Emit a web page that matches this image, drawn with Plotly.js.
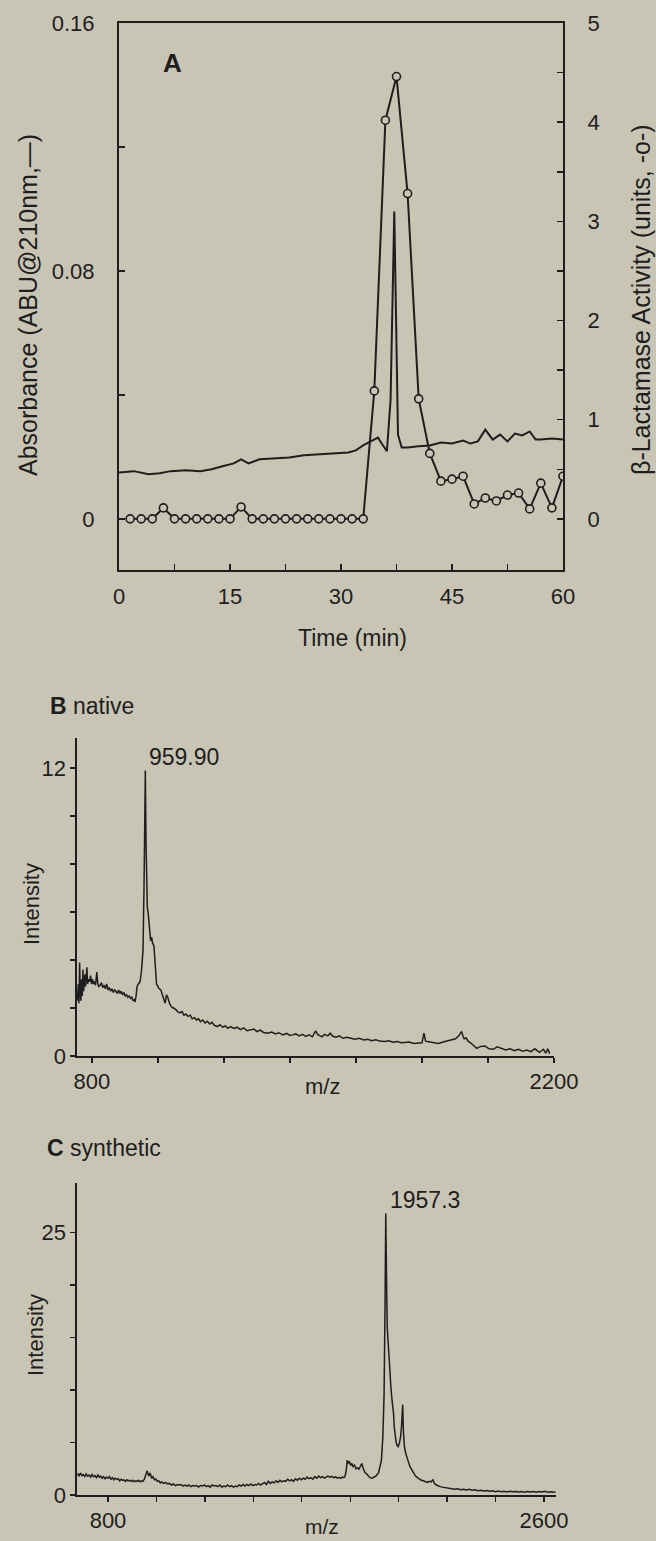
<!DOCTYPE html>
<html>
<head>
<meta charset="utf-8">
<script src="https://cdn.plot.ly/plotly-3.0.1.min.js"></script>
<style>html,body{margin:0;padding:0;background:#c9c5b5;}#chart{width:656px;height:1541px;}</style>
</head>
<body>
<div id="chart"></div>
<script>
// ---------- Panel A: HPLC absorbance and beta-lactamase activity ----------
const absTime = [0, 2, 4, 5.5, 7, 9, 11, 12.5, 14, 15.5, 16.5, 17.5, 19, 21, 23, 25, 27, 29, 31, 32, 33, 34, 35, 35.5, 36.2, 36.7, 37.0, 37.2, 37.4, 37.7, 38.2, 39, 40.5, 42, 43.5, 45, 46.5, 47.5, 48.5, 49.5, 50.5, 51.5, 52.5, 53.5, 54.5, 55.5, 56.3, 57, 58.5, 60];
const absValue = [0.0150, 0.0154, 0.0144, 0.0147, 0.0154, 0.0157, 0.0154, 0.0160, 0.0170, 0.0179, 0.0192, 0.0179, 0.0192, 0.0195, 0.0198, 0.0205, 0.0208, 0.0211, 0.0214, 0.0221, 0.0237, 0.0250, 0.0262, 0.0243, 0.0218, 0.0384, 0.0832, 0.0992, 0.0704, 0.0272, 0.0230, 0.0230, 0.0234, 0.0237, 0.0246, 0.0243, 0.0253, 0.0243, 0.0250, 0.0288, 0.0256, 0.0272, 0.0250, 0.0275, 0.0269, 0.0282, 0.0256, 0.0256, 0.0259, 0.0256];
const actTime = [1.5, 3, 4.5, 6, 7.5, 9, 10.5, 12, 13.5, 15, 16.5, 18, 19.5, 21, 22.5, 24, 25.5, 27, 28.5, 30, 31.5, 33, 34.5, 36, 37.5, 39, 40.5, 42, 43.5, 45, 46.5, 48, 49.5, 51, 52.5, 54, 55.5, 57, 58.5, 60];
const actValue = [0, 0, 0, 0.11, 0, 0, 0, 0, 0, 0, 0.12, 0, 0, 0, 0, 0, 0, 0, 0, 0, 0, 0, 1.29, 4.02, 4.46, 3.28, 1.21, 0.66, 0.38, 0.40, 0.43, 0.15, 0.21, 0.18, 0.24, 0.26, 0.10, 0.36, 0.11, 0.43];
const timeTicks = [0, 7.5, 15, 22.5, 30, 37.5, 45, 52.5, 60];
const timeTickText = ['0', '', '15', '', '30', '', '45', '', '60'];
const absTicks = [0, 0.04, 0.08, 0.12, 0.16];
const absTickText = ['0', '', '0.08', '', '0.16'];
const actTicks = [0, 0.5, 1, 1.5, 2, 2.5, 3, 3.5, 4, 4.5, 5];
const actTickText = ['0', '', '1', '', '2', '', '3', '', '4', '', '5'];

// ---------- Panel B: native MS spectrum ----------
const mzB = [756, 759, 761, 763, 765, 767, 769, 771, 773, 775, 777, 779, 781, 783, 785, 787, 790, 793, 796, 799, 802, 805, 808, 811, 815, 818, 821, 825, 829, 833, 837, 841, 845, 849, 853, 857, 861, 865, 869, 873, 877, 881, 885, 889, 893, 897, 901, 905, 909, 913, 917, 921, 925, 928, 931, 934, 937, 941, 946, 950, 953, 955, 958, 960, 962, 964, 966, 968, 971, 975, 978, 981, 984, 988, 992, 996, 1000, 1004, 1009, 1013, 1017, 1022, 1026, 1030, 1035, 1041, 1047, 1053, 1060, 1066, 1073, 1079, 1085, 1091, 1098, 1104, 1111, 1117, 1123, 1129, 1136, 1143, 1150, 1157, 1164, 1171, 1180, 1188, 1196, 1204, 1212, 1220, 1231, 1240, 1250, 1260, 1270, 1281, 1291, 1300, 1310, 1320, 1333, 1345, 1356, 1367, 1378, 1390, 1400, 1408, 1418, 1428, 1438, 1448, 1458, 1468, 1474, 1478, 1484, 1492, 1497, 1505, 1515, 1522, 1530, 1540, 1550, 1560, 1573, 1585, 1597, 1610, 1624, 1636, 1648, 1660, 1672, 1687, 1700, 1712, 1725, 1738, 1750, 1762, 1775, 1788, 1800, 1806, 1811, 1816, 1826, 1838, 1850, 1864, 1876, 1888, 1902, 1912, 1920, 1925, 1928, 1934, 1941, 1947, 1956, 1966, 1978, 1991, 2003, 2016, 2028, 2042, 2054, 2067, 2080, 2092, 2105, 2118, 2130, 2142, 2156, 2168, 2175, 2181, 2187, 2193, 2197, 2200];
const intB = [2.3, 3.0, 2.2, 3.9, 2.6, 2.3, 3.2, 2.5, 3.6, 2.7, 3.0, 3.4, 2.9, 3.3, 3.7, 3.0, 3.2, 3.1, 3.35, 3.0, 3.2, 3.0, 3.1, 2.95, 3.5, 3.0, 2.9, 2.95, 3.05, 2.85, 2.95, 2.8, 3.0, 2.75, 2.85, 2.7, 2.8, 2.65, 2.75, 2.7, 2.6, 2.75, 2.6, 2.7, 2.55, 2.65, 2.5, 2.55, 2.45, 2.5, 2.4, 2.45, 2.3, 2.35, 2.25, 2.5, 2.9, 3.0, 3.1, 3.5, 3.9, 4.4, 7.0, 10.0, 11.9, 9.0, 7.2, 6.2, 5.9, 5.0, 4.8, 4.95, 4.7, 4.6, 3.6, 3.0, 2.9, 2.8, 2.75, 2.6, 2.4, 2.2, 2.55, 2.45, 2.2, 2.05, 2.0, 1.95, 1.85, 1.8, 1.85, 1.7, 1.75, 1.65, 1.7, 1.55, 1.6, 1.5, 1.55, 1.43, 1.5, 1.38, 1.45, 1.33, 1.4, 1.28, 1.22, 1.3, 1.2, 1.25, 1.15, 1.22, 1.15, 1.2, 1.1, 1.17, 1.05, 1.08, 1.12, 1.02, 1.08, 0.98, 0.95, 1.0, 0.92, 0.97, 0.88, 0.94, 0.86, 0.88, 0.92, 0.84, 0.9, 0.82, 0.88, 0.8, 0.92, 1.05, 0.9, 0.82, 0.8, 0.9, 0.84, 0.95, 0.82, 0.78, 0.84, 0.74, 0.78, 0.74, 0.7, 0.74, 0.67, 0.7, 0.64, 0.68, 0.62, 0.6, 0.63, 0.57, 0.6, 0.55, 0.56, 0.58, 0.52, 0.53, 0.55, 0.95, 0.62, 0.6, 0.57, 0.55, 0.52, 0.58, 0.62, 0.67, 0.72, 0.85, 1.02, 0.8, 0.72, 0.75, 0.6, 0.55, 0.45, 0.32, 0.4, 0.42, 0.3, 0.28, 0.38, 0.32, 0.25, 0.3, 0.22, 0.28, 0.2, 0.25, 0.18, 0.3, 0.15, 0.28, 0.12, 0.3, 0.1];
const mzBTicks = [800, 1000, 1200, 1400, 1600, 1800, 2000, 2200];
const mzBTickText = ['800', '', '', '', '', '', '', '2200'];
const intBTicks = [0, 2, 4, 6, 8, 10, 12];
const intBTickText = ['0', '', '', '', '', '', '12'];

// ---------- Panel C: synthetic MS spectrum ----------
const mzC = [674, 680, 686, 692, 698, 704, 710, 716, 722, 728, 734, 740, 746, 752, 758, 764, 770, 776, 782, 788, 794, 800, 806, 812, 818, 824, 830, 836, 842, 848, 854, 860, 866, 872, 878, 884, 890, 896, 902, 908, 914, 920, 926, 932, 938, 944, 950, 956, 962, 968, 974, 980, 986, 992, 998, 1004, 1010, 1016, 1022, 1030, 1038, 1046, 1054, 1062, 1070, 1078, 1086, 1094, 1102, 1110, 1118, 1126, 1134, 1142, 1150, 1158, 1166, 1174, 1182, 1190, 1198, 1206, 1214, 1222, 1230, 1238, 1246, 1254, 1262, 1270, 1278, 1286, 1294, 1302, 1310, 1318, 1326, 1334, 1342, 1350, 1358, 1366, 1374, 1382, 1390, 1398, 1406, 1414, 1422, 1430, 1438, 1446, 1454, 1462, 1470, 1478, 1486, 1494, 1502, 1510, 1518, 1526, 1534, 1542, 1550, 1558, 1566, 1574, 1582, 1590, 1598, 1606, 1614, 1622, 1630, 1638, 1646, 1654, 1662, 1670, 1678, 1686, 1694, 1700, 1708, 1716, 1724, 1732, 1740, 1748, 1756, 1762, 1768, 1774, 1779, 1784, 1788, 1792, 1797, 1802, 1807, 1812, 1818, 1824, 1830, 1836, 1842, 1848, 1853, 1858, 1862, 1866, 1874, 1882, 1891, 1900, 1908, 1917, 1923, 1929, 1935, 1940, 1944, 1947, 1950, 1953, 1957, 1961, 1965, 1969, 1973, 1976, 1979, 1982, 1986, 1990, 1994, 1998, 2003, 2008, 2012, 2015, 2017, 2020, 2024, 2029, 2034, 2040, 2047, 2054, 2062, 2070, 2078, 2086, 2094, 2102, 2110, 2118, 2126, 2134, 2142, 2148, 2156, 2164, 2172, 2180, 2190, 2200, 2210, 2220, 2232, 2244, 2256, 2268, 2280, 2292, 2304, 2316, 2328, 2340, 2352, 2364, 2376, 2388, 2400, 2412, 2424, 2436, 2448, 2460, 2472, 2484, 2496, 2508, 2520, 2532, 2544, 2556, 2568, 2580, 2592, 2604, 2616, 2628, 2640, 2648];
const intC = [2.05, 1.8, 2.1, 1.85, 1.95, 1.75, 2.0, 1.8, 1.9, 1.7, 1.95, 1.75, 1.85, 1.65, 1.9, 1.7, 1.8, 1.6, 1.75, 1.55, 1.7, 1.6, 1.75, 1.5, 1.65, 1.45, 1.6, 1.5, 1.55, 1.35, 1.5, 1.4, 1.45, 1.3, 1.45, 1.35, 1.4, 1.3, 1.4, 1.25, 1.35, 1.3, 1.4, 1.25, 1.35, 1.3, 1.5, 1.9, 2.3, 1.8, 2.1, 1.6, 1.75, 1.45, 1.5, 1.3, 1.35, 1.15, 1.25, 1.1, 1.2, 1.05, 1.1, 0.95, 1.05, 0.9, 1.0, 0.95, 1.0, 0.85, 0.95, 0.85, 0.95, 0.8, 0.9, 0.85, 0.9, 0.75, 0.9, 0.85, 0.95, 0.8, 0.9, 0.75, 0.95, 0.85, 0.9, 0.8, 0.95, 0.75, 0.85, 0.8, 0.95, 0.8, 0.9, 0.75, 0.85, 0.8, 0.95, 0.85, 1.0, 0.85, 1.0, 0.9, 1.05, 0.9, 1.0, 0.95, 1.1, 0.95, 1.05, 1.2, 1.0, 1.3, 1.1, 1.25, 1.15, 1.35, 1.2, 1.4, 1.25, 1.35, 1.3, 1.5, 1.35, 1.45, 1.3, 1.55, 1.4, 1.6, 1.45, 1.6, 1.5, 1.7, 1.55, 1.65, 1.5, 1.75, 1.6, 1.8, 1.65, 1.75, 1.6, 1.7, 1.8, 1.7, 1.78, 1.65, 1.72, 1.6, 1.68, 1.58, 1.7, 1.65, 1.8, 2.4, 3.3, 3.0, 3.2, 2.8, 3.0, 2.7, 2.85, 2.5, 2.6, 2.45, 2.7, 3.0, 2.6, 2.3, 2.1, 2.05, 1.8, 1.65, 1.6, 1.7, 1.85, 2.1, 2.6, 3.3, 5.5, 9.5, 18, 26.8, 21, 16, 14.5, 12.5, 10.8, 10.0, 9.0, 8.5, 7.8, 6.5, 5.5, 5.0, 4.7, 4.6, 4.9, 5.5, 6.5, 8.4, 8.6, 6.0, 4.6, 4.0, 3.5, 3.2, 2.7, 2.4, 2.0, 1.8, 1.65, 1.5, 1.4, 1.35, 1.3, 1.2, 1.3, 1.25, 1.45, 1.1, 0.95, 0.85, 0.8, 0.75, 0.7, 0.65, 0.6, 0.62, 0.55, 0.6, 0.5, 0.55, 0.48, 0.55, 0.45, 0.5, 0.4, 0.45, 0.38, 0.42, 0.35, 0.4, 0.32, 0.38, 0.3, 0.35, 0.28, 0.36, 0.3, 0.33, 0.28, 0.34, 0.27, 0.33, 0.28, 0.34, 0.27, 0.33, 0.29, 0.36, 0.27, 0.3, 0.24, 0.27];
const mzCTicks = [800, 1000, 1200, 1400, 1600, 1800, 2000, 2200, 2400, 2600];
const mzCTickText = ['800', '', '', '', '', '', '', '', '', '2600'];
const intCTicks = [0, 5, 10, 15, 20, 25];
const intCTickText = ['0', '', '', '', '', '25'];

// ---------- styling / layout ----------
const W = 656, H = 1541;
const fx = p => p / W;
const fy = p => 1 - p / H;
const INK = '#1e1e1e';
const BG = '#c9c5b5';
const FONT = 'Liberation Sans, Arial, Helvetica, sans-serif';

const traces = [
  {x: absTime, y: absValue, xaxis: 'x', yaxis: 'y', mode: 'lines', line: {color: INK, width: 2}, hoverinfo: 'skip'},
  {x: actTime, y: actValue, xaxis: 'x', yaxis: 'y2', mode: 'lines+markers', line: {color: INK, width: 2},
   marker: {symbol: 'circle', size: 8, color: BG, line: {color: INK, width: 1.6}}},
  {x: mzB, y: intB, xaxis: 'x2', yaxis: 'y3', mode: 'lines', line: {color: INK, width: 1.5}},
  {x: mzC, y: intC, xaxis: 'x3', yaxis: 'y4', mode: 'lines', line: {color: INK, width: 1.5}}
];

const tickFont = {family: FONT, size: 22, color: INK};
const baseAx = {showgrid: false, zeroline: false, showline: true, linecolor: INK, tickcolor: INK, tickfont: tickFont, tickmode: 'array', fixedrange: true};

function note(text, x, y, size, extra) {
  return Object.assign({text: text, x: fx(x), y: fy(y), xref: 'paper', yref: 'paper', showarrow: false,
    xanchor: 'center', yanchor: 'middle', font: {family: FONT, size: size, color: INK}}, extra || {});
}

const layout = {
  width: W, height: H,
  margin: {l: 0, r: 0, t: 0, b: 0},
  paper_bgcolor: BG, plot_bgcolor: 'rgba(0,0,0,0)',
  showlegend: false,
  font: {family: FONT, color: INK},
  xaxis: Object.assign({}, baseAx, {domain: [fx(119), fx(563)], anchor: 'y', range: [0, 60], mirror: true, linewidth: 2,
    ticks: 'inside', ticklen: 6, tickwidth: 1.5, tickvals: timeTicks, ticktext: timeTickText, ticklabelstandoff: 6}),
  yaxis: Object.assign({}, baseAx, {domain: [fy(570), fy(23)], anchor: 'x', range: [-0.0165, 0.16], linewidth: 2,
    ticks: 'inside', ticklen: 6, tickwidth: 1.5, tickvals: absTicks, ticktext: absTickText, ticklabelstandoff: 18}),
  yaxis2: Object.assign({}, baseAx, {overlaying: 'y', side: 'right', anchor: 'x', range: [-0.516, 5], linewidth: 2,
    ticks: 'inside', ticklen: 6, tickwidth: 1.5, tickvals: actTicks, ticktext: actTickText, ticklabelstandoff: 18}),
  xaxis2: Object.assign({}, baseAx, {domain: [fx(77), fx(554)], anchor: 'y3', range: [755, 2200], linewidth: 1.6,
    ticks: 'outside', ticklen: 5, tickwidth: 1.3, tickvals: mzBTicks, ticktext: mzBTickText, ticklabelstandoff: 0}),
  yaxis3: Object.assign({}, baseAx, {domain: [fy(1056), fy(738)], anchor: 'x2', range: [0, 13.25], linewidth: 1.6,
    ticks: 'outside', ticklen: 5, tickwidth: 1.3, tickvals: intBTicks, ticktext: intBTickText}),
  xaxis3: Object.assign({}, baseAx, {domain: [fx(77), fx(556)], anchor: 'y4', range: [672, 2650], linewidth: 1.6,
    ticks: 'outside', ticklen: 5, tickwidth: 1.3, tickvals: mzCTicks, ticktext: mzCTickText, ticklabelstandoff: 0}),
  yaxis4: Object.assign({}, baseAx, {domain: [fy(1495), fy(1183)], anchor: 'x3', range: [0, 29.7], linewidth: 1.6,
    ticks: 'outside', ticklen: 5, tickwidth: 1.3, tickvals: intCTicks, ticktext: intCTickText}),
  annotations: [
    note('<b>A</b>', 172, 63, 26),
    note('Time (min)', 352, 638, 23),
    note('Absorbance (ABU@210nm,—)', 28, 305, 25, {textangle: -90}),
    note('β-Lactamase Activity (units, -o-)', 641, 300, 25, {textangle: -90}),
    note('<b>B</b> native', 48, 706, 23, {xanchor: 'left'}),
    note('959.90', 184, 757, 23),
    note('Intensity', 31, 904, 22, {textangle: -90}),
    note('m/z', 322, 1086, 22),
    note('<b>C</b> synthetic', 45, 1148, 23, {xanchor: 'left'}),
    note('1957.3', 425, 1200, 23),
    note('Intensity', 35, 1335, 22, {textangle: -90}),
    note('m/z', 322, 1526, 21)
  ]
};

Plotly.newPlot('chart', traces, layout, {displayModeBar: false, staticPlot: true});
</script>
</body>
</html>
